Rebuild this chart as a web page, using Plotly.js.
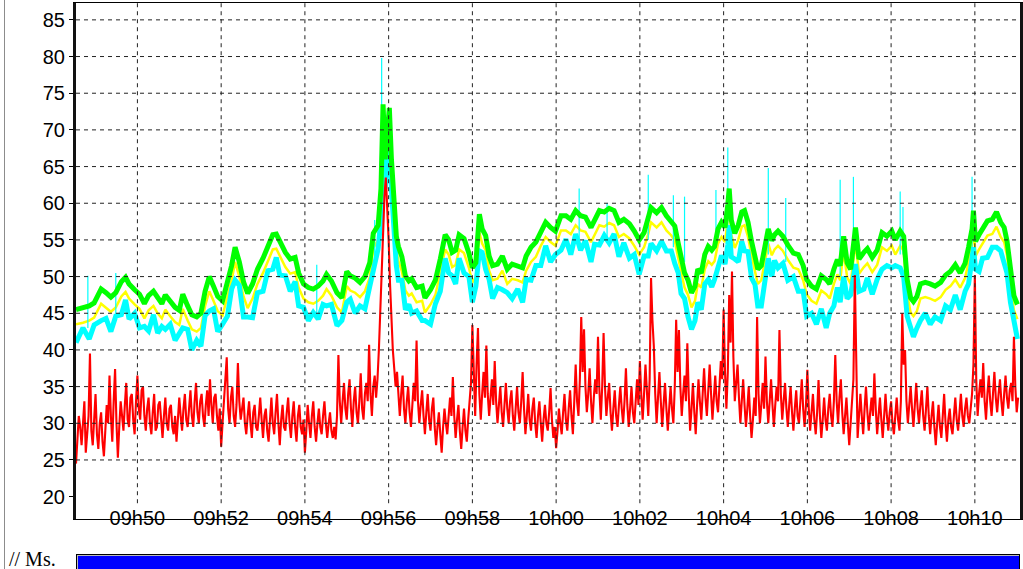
<!DOCTYPE html>
<html><head><meta charset="utf-8">
<script src="https://cdn.plot.ly/plotly-3.0.1.min.js"></script>
<style>
html,body{margin:0;padding:0;background:#fff;width:1023px;height:569px;overflow:hidden;}
#chart{position:absolute;left:0;top:0;width:1023px;height:569px;}
#frame{position:absolute;left:4px;top:0;width:1px;height:569px;background:#8c8c8c;}
#label{position:absolute;left:9px;top:549px;line-height:20px;font-family:"Liberation Serif","Times New Roman",serif;font-size:20px;color:#000;white-space:pre;}
#bar{position:absolute;left:76px;top:554px;width:942px;height:20px;border:1px solid #000;background:#0000ff;box-shadow:inset 1px 1px 0 #bbb;}
</style></head>
<body>
<div id="chart"></div>
<div id="frame"></div>
<div id="label">// Ms.</div>
<div id="bar"></div>
<script>
// time origin of the record: 09:48:32, offsets in seconds
const startClock = [9, 48, 32];
const tickClock = ["09:50","09:52","09:54","09:56","09:58","10:00","10:02","10:04","10:06","10:08","10:10"];
const tickLabels = ["09h50","09h52","09h54","09h56","09h58","10h00","10h02","10h04","10h06","10h08","10h10"];
const yTicks = [20,25,30,35,40,45,50,55,60,65,70,75,80,85];
const yGrid = [25,30,35,40,45,50,55,60,65,70,75,80,85];

// red series, one sample every 2 s
const redStep = 2;
const redV = [
24.5,28,31,29.5,27,30,33,26,28,31,39.5,29,27,31.5,34,28.5,26.5,30,31.5,27.5,
25.5,29,32.5,30,36.5,31,27.5,33,37.4,30,25.3,29.5,33,31,29,32.5,35.5,30.5,29.5,33.5,
34,30.5,28.5,33,36.5,32,30.5,34.5,35,31,29,32,33.5,30,28.5,31.5,34,29,29.5,32.5,
33,30.5,28,31,33.5,30,29,32,32.5,29.5,28.5,31,27.5,30.5,33.5,31,29,32,34,30.5,
29.5,32,34.5,31,29.5,33,35.5,31.5,30,33,34,31,29.5,32.5,34.5,31,36,32.5,30,33.5,
34,31,29,32,26.8,30,33,35.5,39,32,30,33.5,35,31,29.5,32.5,38.2,33,30.5,32,
33.5,30,28.5,31,33,30,28,31.5,32.5,29.5,29,31,33.5,30.5,28,31,32,29,27.5,30.5,
33.5,30,28.5,31.5,34,30,27,30.5,32.5,29.5,29,31.5,33.5,30,28,31,33,29.5,27.5,31,
32.5,29.5,28.5,30.5,26,29,32.5,30,28,31,33,29.5,27.5,30,32,29.5,28.5,31,33,30,
28,30,31.5,29,28,29.5,27.8,31,39.3,33,30,33,35.5,32,30.5,34,36,32,29.5,33,
35,31.5,30,33,36.8,32,30.5,34,35.5,33,40.7,34,31,35,36.5,33.5,36,40,46,52,
57.7,61,63.5,60,55,49,43,40,37.5,35,37,33,31,34,36.5,32,30,33,35,31.5,
29.5,32.5,35.5,33,41.3,33,30,32.5,34.5,31,28.5,31.5,34,30.5,29,32,33.5,29.5,27,29.5,
31.5,28.5,26,29.5,32,30,28.5,31,33.5,31,36.3,31,28,30.5,32.5,29,26.5,29.5,32,29,
27.5,30.5,33,35.5,43.4,35,31,38,43,34,30.5,34,37,33.5,40.6,34,31,33.5,36,32.5,
38.5,33,30,32.5,35,31.5,29.5,32.5,35.5,32,30,33,34.5,31,29,32,35,31.5,30,33,
37,32,28.5,31,34,30.5,29,32,33.5,30,28,31,33,30,27.5,30.5,32.5,30,29,31.5,
34.8,30.5,28,29.5,26.6,29,32,30,28.5,31.5,34,30.5,29,32,34.5,31,28.5,33,38,33,
31,36,44.5,37,42.8,35,31.5,34,37.5,33,30,33.5,36,34,41.8,34.5,30.5,35,42.3,35,
31,33.5,35.5,31.5,29,32,34.5,31,29.5,32.5,35,32,30,33,37.5,32.5,29.5,32,35,31.5,
30,33,36,32.5,38.5,34,30.5,34,38,34.5,31,36,49.8,44,40.5,34,30,33.5,37,33,
29.5,32.5,35.5,32,29,32,35,32,30,35,44.1,37,42.7,35,31,34,36.5,33,40.9,34,
29,32,35.5,31.5,28.5,32.5,36,33,30.5,34,37.5,33.5,31,34.5,38,34,30.5,33.5,36.5,33,
31.5,35,38.5,36,45.5,37,32,37,47.5,41,50.7,39,33,35.5,38,33.5,30,33,36,32.5,
29.5,32,35,31,28,30.5,33.5,31,44.5,34,30,32.5,35.5,32,39.1,33,30,33,36,32.5,
29.5,32.5,35,33,42.7,34,30.5,33,35.5,32,29.5,32.5,35,31.5,29,32,34.5,31,30,33,
36,32,29.5,32.5,37.3,32,29,31.5,34,30.5,28.5,31.5,35.9,31,28,30.5,33.5,30.5,29,32,
34,31,29.5,33,39.3,33,30,33.5,36,31.5,28.5,31,33.5,30,27,30,32.5,36,50.2,36,
28,31,34,31,28.5,32,35,31.5,29,31.5,33.5,31,36.8,32,28.5,31,33.5,30.5,28,31,
34,31,29,31.5,33,30,28.5,31,33.5,30.5,29,33,45,38,40,33,30,32.5,35,32,
29.5,32.5,35.5,32,30,32.5,34.5,31,29,32,35,31,28.5,31,33,29.5,27,30,32.5,29.5,
28,31,34,30,27.5,30.5,32,29.5,28.5,31,33.5,30.5,29,31.5,34,31,29.5,32,33.5,31,
30,32,34,38,50.2,36,31,34,36,33.5,38.2,33,30.5,34,36.5,33,31,34,37,33.5,
31.5,34,36,33,31,34,36.5,33.5,32,34.5,35.5,33,41.8,35,31.5,33.5
];

// slow series (green / yellow / cyan) sample times in seconds
const slowT = [
0,10,19,26,36,43,50,57,65,71,76,84,91,98,104,111,117,123,128,135,
142,148,153,160,166,173,179,185,191,197,203,210,217,223,228,234,240,246,253,260,
268,275,282,287,292,300,307,314,319,326,333,340,347,354,359,366,374,381,388,393,
400,407,414,421,426,433,437,440,443,446,449,452,455,459,462,467,472,477,481,488,
496,500,508,515,522,529,534,539,544,549,556,563,568,573,578,582,587,592,597,604,
611,618,625,633,640,645,652,659,666,673,680,687,695,702,709,716,723,730,738,743,
750,757,764,771,778,785,793,800,807,814,820,824,832,839,846,853,858,863,867,872,
877,882,887,891,896,901,906,911,915,920,925,930,934,936,939,944,949,954,958,963,
968,973,977,982,987,992,997,1001,1006,1013,1020,1028,1035,1042,1047,1054,1061,1068,1075,1080,
1086,1091,1095,1100,1105,1110,1117,1122,1129,1134,1141,1148,1155,1162,1169,1174,1181,1186,1191,1196,
1200,1205,1210,1217,1224,1231,1239,1246,1253,1260,1267,1274,1279,1284,1286,1289,1294,1299,1306,1313,
1319,1325,1330,1334,1339,1344,1349
];
const greenV = [
45.5,45.7,46.0,46.4,48.3,47.8,47.2,47.8,49.3,49.9,49.0,48.2,47.6,46.3,47.4,48.0,47.0,46.3,47.5,46.6,
45.8,45.4,47.6,46.0,44.8,44.5,45.0,48.0,50.0,48.7,47.3,46.7,49.2,51.5,54.0,52.0,49.3,47.7,49.0,51.0,
52.5,54.0,55.7,55.8,54.8,53.3,52.4,52.6,50.5,49.0,48.5,48.3,48.7,49.4,50.3,49.4,47.8,47.1,50.7,50.1,
49.8,49.2,50.0,51.9,55.9,57.0,62.0,73.5,66.0,70.0,73.0,66.0,60.0,55.5,54.1,52.7,50.1,49.4,49.7,48.5,
48.7,47.1,48.2,49.5,52.4,55.7,55.0,53.3,53.6,55.7,55.2,53.2,51.2,51.9,58.5,56.5,55.6,52.8,51.5,51.7,
52.8,51.0,51.7,51.5,51.2,52.8,54.0,54.7,56.2,57.4,56.7,56.2,58.3,58.3,57.8,59.0,58.3,58.1,56.7,57.6,
59.0,58.8,59.3,59.0,57.4,57.8,57.2,56.2,55.0,56.0,57.8,59.4,58.7,59.4,58.3,57.6,56.9,54.5,52.7,50.5,
49.5,47.8,48.7,51.0,50.5,53.0,54.1,53.6,54.1,56.5,57.4,56.7,59.8,62.0,57.7,55.9,57.0,58.8,59.0,57.4,
54.8,52.4,51.0,51.5,54.3,56.5,54.9,55.7,56.2,55.5,54.3,53.2,53.0,51.5,49.6,48.7,48.3,50.1,49.6,49.0,
51.0,52.3,51.5,55.5,51.9,51.0,56.7,52.4,53.3,53.8,52.6,53.6,56.0,55.5,56.2,55.0,56.2,55.5,49.6,47.1,
46.6,47.3,49.0,49.2,49.0,48.7,49.2,50.2,50.7,51.6,50.5,51.8,54.0,56.5,59.0,54.8,55.7,56.5,57.6,57.8,
58.8,57.4,56.7,54.9,51.5,47.4,46.2
];
const yellowV = [
43.5,43.7,44.0,44.4,46.3,45.8,45.2,45.8,47.3,47.9,47.0,46.2,45.6,44.3,45.4,46.0,45.0,44.3,45.5,44.6,
43.8,43.4,45.6,44.0,42.8,42.5,43.0,46.0,48.0,46.7,45.3,44.7,47.2,49.5,52.0,50.0,47.3,45.7,47.0,49.0,
50.5,52.0,53.7,53.8,52.8,51.3,50.4,50.6,48.5,47.0,46.5,46.3,46.7,47.4,48.3,47.4,45.8,45.1,48.7,48.1,
47.8,47.2,48.0,49.9,53.9,55.0,60.0,71.0,64.0,68.0,71.0,64.0,58.0,53.5,52.1,50.7,48.1,47.4,47.7,46.5,
46.7,45.1,46.2,47.5,50.4,53.7,53.0,51.3,51.6,53.7,53.2,51.2,49.2,49.9,56.0,54.5,53.6,50.8,49.5,49.7,
50.8,49.0,49.7,49.5,49.2,50.8,52.0,52.7,54.2,55.4,54.7,54.2,56.3,56.3,55.8,57.0,56.3,56.1,54.7,55.6,
57.0,56.8,57.3,57.0,55.4,55.8,55.2,54.2,53.0,54.0,55.8,57.4,56.7,57.4,56.3,55.6,54.9,52.5,50.7,48.5,
47.5,45.8,46.7,49.0,48.5,51.0,52.1,51.6,52.1,54.5,55.4,54.7,57.8,60.0,55.7,53.9,55.0,56.8,57.0,55.4,
52.8,50.4,49.0,49.5,52.3,54.5,52.9,53.7,54.2,53.5,52.3,51.2,51.0,49.5,47.6,46.7,46.3,48.1,47.6,47.0,
49.0,50.3,49.5,53.5,49.9,49.0,54.7,50.4,51.3,51.8,50.6,51.6,54.0,53.5,54.2,53.0,54.2,53.5,47.6,45.1,
44.6,45.3,47.0,47.2,47.0,46.7,47.2,48.2,48.7,49.6,48.5,49.8,52.0,54.5,57.0,52.8,53.7,54.5,55.6,55.8,
56.8,55.4,54.7,52.9,49.5,45.4,44.2
];
const cyanV = [
41.0,43.0,41.5,43.4,44.0,44.3,42.5,44.6,44.8,46.8,44.2,45.0,43.0,43.2,42.6,44.8,42.3,43.2,42.8,43.5,
41.3,42.3,43.0,42.8,40.0,41.3,40.5,44.7,45.3,45.6,42.5,43.5,44.6,48.3,49.5,48.8,44.5,44.5,44.4,47.8,
48.0,50.8,51.0,52.6,50.2,50.1,48.0,49.3,46.0,45.8,44.0,45.1,44.2,46.2,46.0,46.2,43.3,44.0,46.5,46.9,
45.0,46.0,45.6,48.7,51.0,53.8,58.0,70.0,62.0,66.0,70.0,62.0,56.0,51.5,49.5,49.5,45.5,46.2,45.0,45.3,
44.0,44.0,43.5,46.3,48.0,52.5,50.5,50.1,49.0,52.5,50.5,50.0,46.5,48.7,53.5,53.3,51.0,49.6,47.0,48.5,
48.2,47.8,47.0,48.3,46.5,49.6,49.5,51.5,51.5,54.2,52.0,53.0,53.6,55.1,53.0,55.8,53.6,54.9,52.0,54.4,
54.3,55.6,54.6,55.8,52.7,54.6,52.5,53.0,50.3,52.8,52.8,54.5,53.5,54.8,53.5,53.5,51.8,50.5,47.7,47.0,
44.5,42.8,44.0,46.5,45.5,49.0,49.6,48.6,49.6,51.5,52.9,51.7,54.3,57.0,52.7,52.4,52.0,54.8,53.5,53.4,
49.8,48.9,46.0,46.0,49.3,52.5,50.0,52.2,51.2,51.8,49.5,50.0,48.0,48.0,44.6,45.0,43.5,45.6,43.0,45.0,
46.0,48.5,46.5,50.0,47.0,47.5,51.7,48.0,48.3,49.8,47.6,49.6,51.0,51.5,51.2,51.5,51.2,50.0,44.6,43.2,
41.8,43.0,44.0,45.0,43.5,44.5,44.0,46.0,45.5,47.5,45.5,48.0,49.0,52.5,54.0,51.0,50.7,52.5,52.6,54.0,
54.0,53.5,51.7,50.5,46.5,43.5,41.5
];
// thin cyan spikes: time (s), foot and top values
const cyanSpikeT = [17,57,345,428,438,721,761,820,856,872,917,934,992,1017,1095,1114,1181,1185,1284];
const cyanSpikeLow = [43,44,45,52,60,55,55,55,54,52,54,56,53,52,50,51,53,53,52];
const cyanSpikeHigh = [50.1,50.5,51.6,57.7,79.8,62.0,60.0,63.9,61.1,60.9,61.8,67.6,64.8,60.7,63.2,63.6,61.6,59.5,63.6];

const t0 = Date.UTC(2024,0,1,startClock[0],startClock[1],startClock[2]);
const toMs = s => t0 + s*1000;
const clockMs = c => { const p = c.split(":").map(Number); return Date.UTC(2024,0,1,p[0],p[1],0); };
const tickMs = tickClock.map(clockMs);

const redX = redV.map((v,i) => toMs(i*redStep));
const slowX = slowT.map(toMs);
const spX = [], spY = [];
cyanSpikeT.forEach((t,i) => { spX.push(toMs(t), toMs(t), null); spY.push(cyanSpikeLow[i], cyanSpikeHigh[i], null); });

const traces = [
  {x: slowX, y: yellowV, mode:'lines', line:{color:'#ffff00', width:2.5}, hoverinfo:'skip'},
  {x: slowX, y: cyanV, mode:'lines', line:{color:'#00ffff', width:5}, hoverinfo:'skip'},
  {x: spX, y: spY, mode:'lines', line:{color:'#00ffff', width:1.2}, connectgaps:false, hoverinfo:'skip'},
  {x: slowX, y: greenV, mode:'lines', line:{color:'#00ff00', width:5}, hoverinfo:'skip'},
  {x: redX, y: redV, mode:'lines', line:{color:'#ff0000', width:2.1}, hoverinfo:'skip'}
];

const yMin = 16.95, yMax = 87.3, vGridBottom = 19.1;
const gridStyle = {color:'#222', width:1, dash:'4px,4px'};
const shapes = [];
tickMs.forEach(x => shapes.push({type:'line', xref:'x', yref:'y', x0:x, x1:x, y0:vGridBottom, y1:yMax, line:gridStyle, layer:'above'}));
yGrid.forEach(y => shapes.push({type:'line', xref:'paper', yref:'y', x0:0, x1:1, y0:y, y1:y, line:gridStyle, layer:'above'}));

const layout = {
  width:1023, height:569,
  margin:{l:76, r:3, t:3, b:50, pad:0},
  paper_bgcolor:'#fff', plot_bgcolor:'#fff',
  showlegend:false,
  font:{family:'"Liberation Sans", Arial, sans-serif', size:20, color:'#000'},
  xaxis:{
    type:'date', range:[toMs(0), toMs(1352.7)],
    tickmode:'array', tickvals:tickMs, ticktext:tickLabels,
    ticks:'', showgrid:false, zeroline:false,
    showline:true, linecolor:'#000', linewidth:1, mirror:true,
    ticklabelstandoff:-19,
    tickfont:{family:'"Liberation Sans", Arial, sans-serif', size:20, color:'#000'}
  },
  yaxis:{
    range:[yMin, yMax], tickmode:'array', tickvals:yTicks, ticktext:yTicks.map(String),
    ticks:'outside', ticklen:4, tickwidth:1, tickcolor:'#000',
    showgrid:false, zeroline:false,
    showline:true, linecolor:'#111', linewidth:3, mirror:true,
    tickfont:{family:'"Liberation Sans", Arial, sans-serif', size:20, color:'#000'}
  },
  shapes: shapes,
  hovermode:false
};
Plotly.newPlot('chart', traces, layout, {displayModeBar:false, staticPlot:true});
</script>
</body></html>
